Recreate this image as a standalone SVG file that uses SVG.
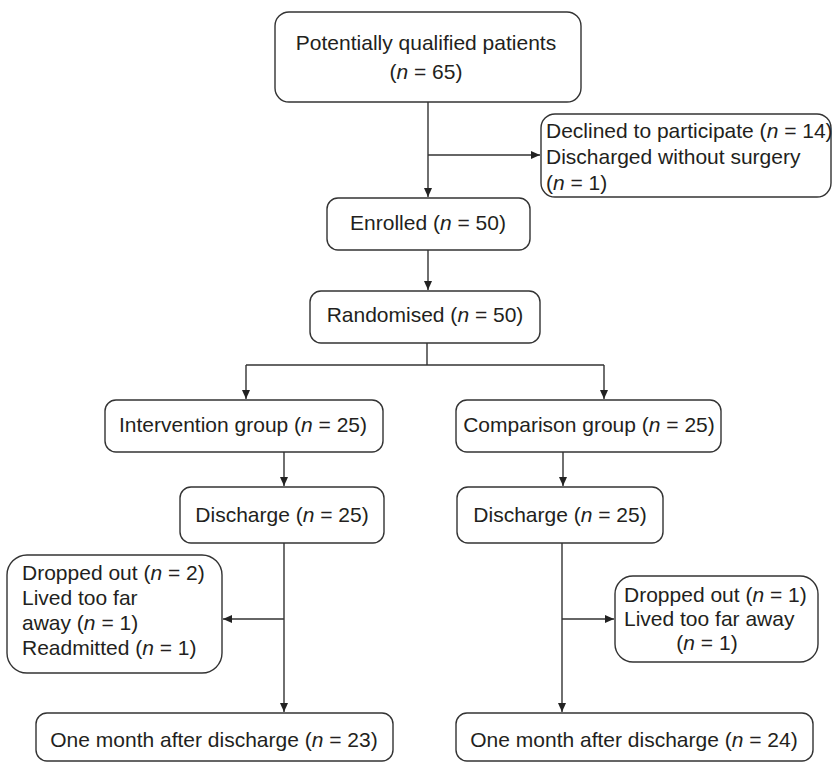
<svg xmlns="http://www.w3.org/2000/svg" width="832" height="763" viewBox="0 0 832 763">
<style>
.box{fill:#fff;stroke:#333;stroke-width:1.4}
.t{font-family:"Liberation Sans",Arial,sans-serif;font-size:21px;fill:#231f20}
.c{text-anchor:middle}
.i{font-style:italic}
.ln{fill:none;stroke:#333;stroke-width:1.4}
</style>
<defs>
<marker id="ah" markerWidth="10" markerHeight="10" refX="9" refY="5" orient="auto" markerUnits="userSpaceOnUse">
<path d="M0,1 L9,5 L0,9 Z" fill="#222"/>
</marker>
</defs>
<rect width="832" height="763" fill="#fff"/>
<g id="connectors">
<path class="ln" d="M428,102 V197" marker-end="url(#ah)"/>
<path class="ln" d="M428,155 H540" marker-end="url(#ah)"/>
<path class="ln" d="M428,250 V290" marker-end="url(#ah)"/>
<path class="ln" d="M427,343 V365"/>
<path class="ln" d="M246,365 H604"/>
<path class="ln" d="M246,365 V399" marker-end="url(#ah)"/>
<path class="ln" d="M604,365 V399" marker-end="url(#ah)"/>
<path class="ln" d="M284,452 V486" marker-end="url(#ah)"/>
<path class="ln" d="M563,452 V486" marker-end="url(#ah)"/>
<path class="ln" d="M284,543 V712" marker-end="url(#ah)"/>
<path class="ln" d="M284,619 H223" marker-end="url(#ah)"/>
<path class="ln" d="M562,543 V712" marker-end="url(#ah)"/>
<path class="ln" d="M562,619 H614" marker-end="url(#ah)"/>
</g>
<g id="potential">
<rect class="box" x="275" y="12" width="306" height="90" rx="14"/>
<text class="t c" x="426" y="50">Potentially qualified patients</text>
<text class="t c" x="426" y="79">(<tspan class="i">n</tspan> = 65)</text>
</g>
<g id="declined">
<rect class="box" x="541" y="114" width="290" height="83" rx="14"/>
<text class="t" x="546" y="138">Declined to participate (<tspan class="i">n</tspan> = 14)</text>
<text class="t" x="546" y="164">Discharged without surgery</text>
<text class="t" x="546" y="190">(<tspan class="i">n</tspan> = 1)</text>
</g>
<g id="enrolled">
<rect class="box" x="327" y="198" width="203" height="52" rx="11"/>
<text class="t c" x="428" y="230">Enrolled (<tspan class="i">n</tspan> = 50)</text>
</g>
<g id="randomised">
<rect class="box" x="310" y="291" width="230" height="52" rx="11"/>
<text class="t c" x="425" y="322">Randomised (<tspan class="i">n</tspan> = 50)</text>
</g>
<g id="intervention">
<rect class="box" x="105" y="400" width="278" height="52" rx="11"/>
<text class="t c" x="243" y="432">Intervention group (<tspan class="i">n</tspan> = 25)</text>
</g>
<g id="comparison">
<rect class="box" x="456" y="400" width="265" height="52" rx="11"/>
<text class="t c" x="589" y="432">Comparison group (<tspan class="i">n</tspan> = 25)</text>
</g>
<g id="discharge-left">
<rect class="box" x="180" y="487" width="204" height="56" rx="11"/>
<text class="t c" x="282" y="522">Discharge (<tspan class="i">n</tspan> = 25)</text>
</g>
<g id="discharge-right">
<rect class="box" x="457" y="487" width="206" height="56" rx="11"/>
<text class="t c" x="560" y="522">Discharge (<tspan class="i">n</tspan> = 25)</text>
</g>
<g id="dropped-left">
<rect class="box" x="7" y="555" width="215" height="118" rx="20"/>
<text class="t" x="22" y="580">Dropped out (<tspan class="i">n</tspan> = 2)</text>
<text class="t" x="22" y="605">Lived too far</text>
<text class="t" x="22" y="630">away (<tspan class="i">n</tspan> = 1)</text>
<text class="t" x="22" y="655">Readmitted (<tspan class="i">n</tspan> = 1)</text>
</g>
<g id="dropped-right">
<rect class="box" x="615" y="576" width="203" height="86" rx="18"/>
<text class="t" x="624" y="602">Dropped out (<tspan class="i">n</tspan> = 1)</text>
<text class="t" x="624" y="626">Lived too far away</text>
<text class="t c" x="707" y="650">(<tspan class="i">n</tspan> = 1)</text>
</g>
<g id="month-left">
<rect class="box" x="36" y="713" width="357" height="48" rx="11"/>
<text class="t c" x="214" y="747">One month after discharge (<tspan class="i">n</tspan> = 23)</text>
</g>
<g id="month-right">
<rect class="box" x="456" y="713" width="357" height="48" rx="11"/>
<text class="t c" x="634" y="747">One month after discharge (<tspan class="i">n</tspan> = 24)</text>
</g>
</svg>
